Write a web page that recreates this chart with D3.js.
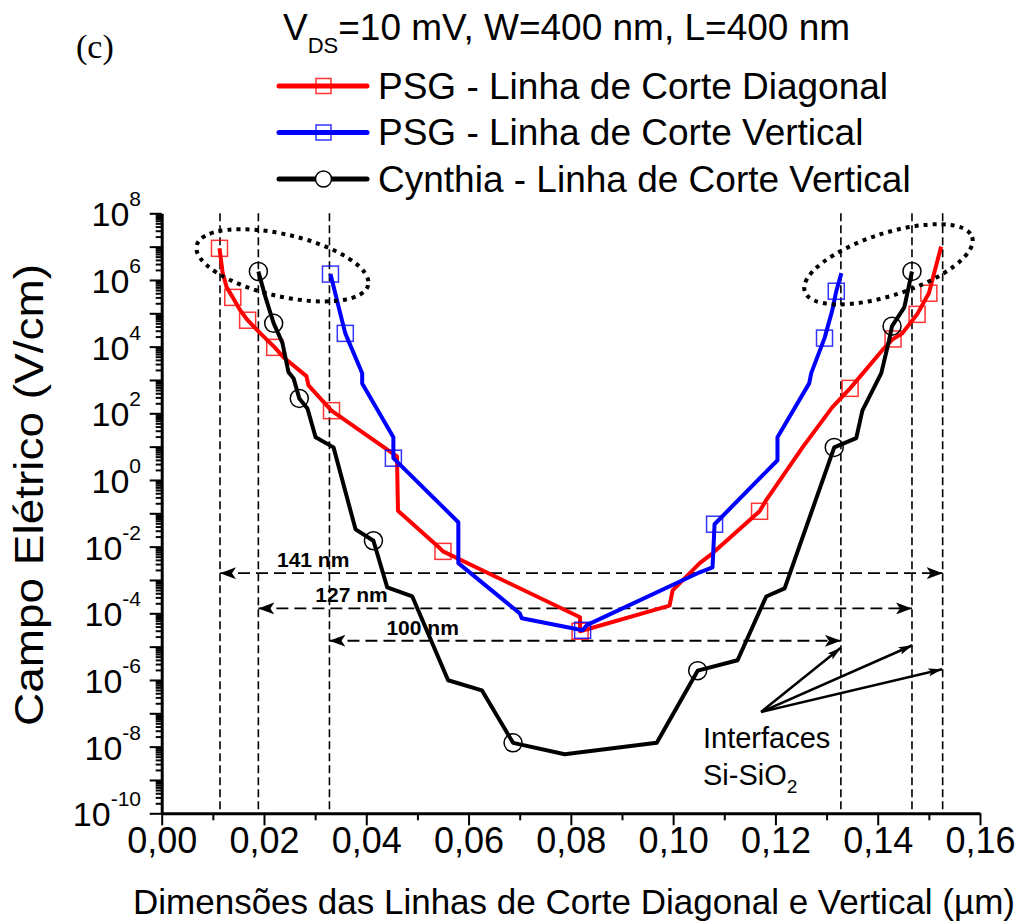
<!DOCTYPE html>
<html>
<head>
<meta charset="utf-8">
<script src="https://cdn.jsdelivr.net/npm/d3@7"></script>
<style>
  body { margin: 0; background: #fff; }
  text { font-family: "Liberation Sans", Arial, sans-serif; fill: #000; }
</style>
</head>
<body>
<svg id="chart" width="1023" height="923"></svg>
<script>
// values: [x (µm), E (V/cm), symbol drawn?]
const psgDiagonal = [
  [0.0113, 8.9e6, 1], [0.0119, 1.7e6, 0], [0.0127, 6.0e5, 0], [0.0139, 3.0e5, 1],
  [0.0154, 1.2e5, 0], [0.0168, 6.2e4, 1], [0.0193, 2.5e4, 0], [0.0221, 9.5e3, 1],
  [0.0238, 4.8e3, 0], [0.0283, 1.3e3, 0], [0.0287, 6.9e2, 0], [0.0332, 1.2e2, 1],
  [0.0460, 5.1, 0], [0.0462, 0.12, 0], [0.0544, 8.9e-3, 0], [0.0550, 7.2e-3, 1],
  [0.0818, 7.6e-5, 0], [0.0818, 2.9e-5, 1], [0.0837, 3.5e-5, 0], [0.0993, 1.7e-4, 0],
  [0.0999, 4.9e-4, 0], [0.1052, 3.2e-3, 0], [0.1077, 6.3e-3, 0], [0.1169, 0.115, 1],
  [0.1182, 0.25, 0], [0.1253, 9.5, 0], [0.1311, 1.5e2, 0], [0.1346, 5.6e2, 1],
  [0.1409, 7.8e3, 0], [0.1430, 1.7e4, 1], [0.1448, 2.5e4, 0], [0.1477, 9.3e4, 1],
  [0.1500, 4.0e5, 1], [0.1524, 1.0e7, 0]
];
const psgVertical = [
  [0.0330, 1.5e6, 1], [0.0349, 1.0e5, 0], [0.0359, 2.5e4, 1], [0.0392, 1.6e3, 0],
  [0.0392, 7.9e2, 0], [0.0453, 19, 0], [0.0453, 4.5, 1], [0.0580, 5.4e-2, 0],
  [0.0580, 3.2e-3, 0], [0.0700, 1.0e-4, 0], [0.0704, 7.1e-5, 0], [0.0823, 3.1e-5, 1],
  [0.0831, 4.4e-5, 0], [0.1052, 1.7e-3, 0], [0.1077, 2.4e-3, 0], [0.1081, 4.7e-2, 1],
  [0.1204, 3.9, 0], [0.1204, 19, 0], [0.1266, 7.9e2, 0], [0.1270, 1.6e3, 0],
  [0.1296, 1.8e4, 1], [0.1311, 1.2e5, 0], [0.1319, 4.6e5, 1], [0.1329, 1.6e6, 0]
];
const cynthia = [
  [0.0189, 1.8e6, 1], [0.0203, 3.0e5, 0], [0.0219, 5.0e4, 1], [0.0236, 1.3e4, 0],
  [0.0248, 1.7e3, 0], [0.0258, 1.1e3, 0], [0.0269, 2.8e2, 1], [0.0285, 1.4e2, 0],
  [0.0301, 19, 0], [0.0336, 9.5, 0], [0.0379, 3.3e-2, 0], [0.0414, 1.5e-2, 1],
  [0.0441, 6.0e-4, 0], [0.0490, 3.2e-4, 0], [0.0560, 9.8e-7, 0], [0.0626, 4.9e-7, 0],
  [0.0687, 1.3e-8, 1], [0.0788, 5.9e-9, 0], [0.0968, 1.3e-8, 0], [0.1048, 1.9e-6, 1],
  [0.1126, 3.9e-6, 0], [0.1182, 3.2e-4, 0], [0.1218, 5.6e-4, 0], [0.1315, 9.5, 1],
  [0.1358, 18, 0], [0.1370, 1.2e2, 0], [0.1407, 1.6e3, 0], [0.1422, 1.5e4, 0],
  [0.1428, 4.1e4, 1], [0.1452, 1.5e5, 0], [0.1467, 1.8e6, 1]
];

const seriesNames = ['PSG - Linha de Corte Diagonal', 'PSG - Linha de Corte Vertical', 'Cynthia - Linha de Corte Vertical'];
const seriesColors = ['#ff0000', '#0000ff', '#000000'];
const seriesSymbols = ['square', 'square', 'circle'];

const xTicks = [0, 0.02, 0.04, 0.06, 0.08, 0.10, 0.12, 0.14, 0.16];
const xMinorTicks = [0.01, 0.03, 0.05, 0.07, 0.09, 0.11, 0.13, 0.15];
const yLabelExps = [8, 6, 4, 2, 0, -2, -4, -6, -8, -10];

// Si-SiO2 interface positions (µm) and the three measured widths
const interfaces = [0.0114, 0.0189, 0.0328, 0.1328, 0.1467, 0.1527];
const widths = [
  { from: 0, to: 5, e: 1.6e-3, label: '141 nm' },
  { from: 1, to: 4, e: 1.4e-4, label: '127 nm' },
  { from: 2, to: 3, e: 1.5e-5, label: '100 nm' }
];
// interface pointers: origin + ends, in data units
const pointerFrom = [0.1172, 1.1e-7];
const pointerTo = [[0.1328, 9.3e-6], [0.1468, 1.1e-5], [0.1526, 2.1e-6]];
// dotted ellipses around the interface peaks [x, E, tilt]
const peakRings = [[0.0236, 2.75e6, 13], [0.1421, 2.95e6, -18]];

const svg = d3.select('#chart');

const x = d3.scaleLinear().domain([0, 0.16]).range([161.7, 980]);
const y = d3.scaleLog().domain([1e-10, 1e8]).range([813.3, 213.3]);

const defs = svg.append('defs');
defs.append('marker')
  .attr('id', 'dimHead')
  .attr('viewBox', '0 -6 16 12')
  .attr('refX', 16).attr('refY', 0)
  .attr('markerWidth', 16).attr('markerHeight', 12)
  .attr('markerUnits', 'userSpaceOnUse')
  .attr('orient', 'auto-start-reverse')
  .append('path')
  .attr('d', 'M0,-6L16,0L0,6L4,0Z')
  .attr('fill', '#000');
defs.append('marker')
  .attr('id', 'ptrHead')
  .attr('viewBox', '0 -4 14 8')
  .attr('refX', 14).attr('refY', 0)
  .attr('markerWidth', 14).attr('markerHeight', 8)
  .attr('markerUnits', 'userSpaceOnUse')
  .attr('orient', 'auto')
  .append('path')
  .attr('d', 'M0,-4L14,0L0,4L3,0Z')
  .attr('fill', '#000');

// vertical dashed interface lines
svg.append('g').selectAll('line')
  .data(interfaces)
  .enter().append('line')
  .attr('x1', d => x(d)).attr('x2', d => x(d))
  .attr('y1', y(1e8)).attr('y2', y(1e-10))
  .attr('stroke', '#000')
  .attr('stroke-width', 1.6)
  .attr('stroke-dasharray', '8,4');

// width arrows
let dims = svg.append('g');
dims.selectAll('line')
  .data(widths)
  .enter().append('line')
  .attr('x1', d => x(interfaces[d.from])).attr('x2', d => x(interfaces[d.to]))
  .attr('y1', d => y(d.e)).attr('y2', d => y(d.e))
  .attr('stroke', '#000')
  .attr('stroke-width', 1.8)
  .attr('stroke-dasharray', '12,6')
  .attr('marker-start', 'url(#dimHead)')
  .attr('marker-end', 'url(#dimHead)');
dims.selectAll('text')
  .data(widths)
  .enter().append('text')
  .attr('x', d => x(interfaces[d.from]) + 57)
  .attr('y', d => y(d.e) - 6)
  .style('font-size', '21px')
  .style('font-weight', 'bold')
  .text(d => d.label);

// series lines + symbols
const line = d3.line().x(d => x(d[0])).y(d => y(d[1]));
[psgDiagonal, psgVertical, cynthia].forEach((data, i) => {
  let g = svg.append('g');
  g.append('path')
    .datum(data)
    .attr('d', line)
    .attr('fill', 'none')
    .attr('stroke', seriesColors[i])
    .attr('stroke-width', 4)
    .attr('stroke-linejoin', 'round');
  let pts = data.filter(d => d[2]);
  if (seriesSymbols[i] === 'square') {
    g.selectAll('rect')
      .data(pts)
      .enter().append('rect')
      .attr('x', d => x(d[0]) - 8).attr('y', d => y(d[1]) - 8)
      .attr('width', 16).attr('height', 16)
      .attr('fill', 'none')
      .attr('stroke', seriesColors[i])
      .attr('stroke-opacity', 0.8)
      .attr('stroke-width', 1.5);
  } else {
    g.selectAll('circle')
      .data(pts)
      .enter().append('circle')
      .attr('cx', d => x(d[0])).attr('cy', d => y(d[1]))
      .attr('r', 9)
      .attr('fill', 'none')
      .attr('stroke', '#000')
      .attr('stroke-width', 1.5);
  }
});

// dotted ellipses
svg.append('g').selectAll('ellipse')
  .data(peakRings)
  .enter().append('ellipse')
  .attr('transform', d => `translate(${x(d[0])},${y(d[1])}) rotate(${d[2]})`)
  .attr('rx', 88).attr('ry', 31)
  .attr('fill', 'none')
  .attr('stroke', '#000')
  .attr('stroke-width', 4)
  .attr('stroke-dasharray', '4,5');

// interface pointers
svg.append('g').selectAll('line')
  .data(pointerTo)
  .enter().append('line')
  .attr('x1', x(pointerFrom[0])).attr('y1', y(pointerFrom[1]))
  .attr('x2', d => x(d[0])).attr('y2', d => y(d[1]))
  .attr('stroke', '#000')
  .attr('stroke-width', 2.5)
  .attr('marker-end', 'url(#ptrHead)');

let note = svg.append('text')
  .attr('x', 703).attr('y', 748)
  .style('font-size', '29px');
note.append('tspan').text('Interfaces');
let note2 = svg.append('text')
  .attr('x', 703).attr('y', 785)
  .style('font-size', '29px');
note2.append('tspan').text('Si-SiO');
note2.append('tspan').attr('dy', 8).style('font-size', '19px').text('2');

// axes
let xAxis = svg.append('g')
  .attr('transform', `translate(0,${y(1e-10)})`)
  .call(d3.axisBottom(x).tickValues(xTicks).tickSize(12).tickSizeOuter(0)
    .tickFormat(d => d3.format('.2f')(d).replace('.', ',')));
svg.append('g')
  .attr('transform', `translate(0,${y(1e-10)})`)
  .call(d3.axisBottom(x).tickValues(xMinorTicks).tickSize(7).tickSizeOuter(0).tickFormat(''))
  .select('.domain').remove();
xAxis.selectAll('text')
  .attr('y', 40)
  .attr('dy', 0)
  .style('font-size', '36px')
  .style('font-family', '"Liberation Sans", Arial, sans-serif');

const yMajor = d3.range(-10, 9).map(k => Math.pow(10, k));
const yMinor = [];
d3.range(-10, 8).forEach(k => {
  for (let m = 2; m <= 9; m++) yMinor.push(m * Math.pow(10, k));
});
let yAxis = svg.append('g')
  .attr('transform', `translate(${x(0)},0)`)
  .call(d3.axisLeft(y).tickValues(yMajor).tickSize(12).tickSizeOuter(0).tickFormat(''));
svg.append('g')
  .attr('transform', `translate(${x(0)},0)`)
  .call(d3.axisLeft(y).tickValues(yMinor).tickSize(6).tickSizeOuter(0).tickFormat(''))
  .select('.domain').remove();

svg.selectAll('.domain').attr('stroke-width', 3);
svg.selectAll('.tick line').attr('stroke-width', 2);

let yLabels = svg.append('g').selectAll('text')
  .data(yLabelExps)
  .enter().append('text')
  .attr('x', 141)
  .attr('y', d => y(Math.pow(10, d)) + 13)
  .attr('text-anchor', 'end')
  .style('font-size', '34px');
yLabels.append('tspan').text('10');
yLabels.append('tspan')
  .attr('dy', -20)
  .style('font-size', '21px')
  .text(d => String(d));

// axis titles
svg.append('text')
  .attr('x', 574).attr('y', 914)
  .attr('text-anchor', 'middle')
  .style('font-size', '35px')
  .text('Dimensões das Linhas de Corte Diagonal e Vertical (µm)');
svg.append('text')
  .attr('transform', 'translate(43,495) rotate(-90)')
  .attr('text-anchor', 'middle')
  .attr('textLength', 462)
  .attr('lengthAdjust', 'spacingAndGlyphs')
  .style('font-size', '40px')
  .text('Campo Elétrico (V/cm)');

// panel tag and header
svg.append('text')
  .attr('x', 76).attr('y', 58)
  .style('font-family', '"Liberation Serif", "Times New Roman", serif')
  .style('font-size', '34px')
  .text('(c)');
let head = svg.append('text')
  .attr('x', 283).attr('y', 40)
  .style('font-size', '37px');
head.append('tspan').text('V');
head.append('tspan').attr('dy', 13).style('font-size', '22px').text('DS');
head.append('tspan').attr('dy', -13).text('=10 mV, W=400 nm, L=400 nm');

// legend
const legendRows = [86, 132.5, 179];
let legend = svg.append('g').selectAll('g')
  .data(seriesNames)
  .enter().append('g')
  .attr('transform', (d, i) => `translate(0,${legendRows[i]})`);
legend.append('line')
  .attr('x1', 279).attr('x2', 367)
  .attr('stroke', (d, i) => seriesColors[i])
  .attr('stroke-width', 5)
  .attr('stroke-linecap', 'round');
legend.each(function(d, i) {
  let g = d3.select(this);
  if (seriesSymbols[i] === 'square') {
    g.append('rect')
      .attr('x', 316).attr('y', -7.5)
      .attr('width', 15).attr('height', 15)
      .attr('fill', 'none')
      .attr('stroke', seriesColors[i])
      .attr('stroke-opacity', 0.8)
      .attr('stroke-width', 1.5);
  } else {
    g.append('circle')
      .attr('cx', 323.5).attr('r', 8)
      .attr('fill', '#fff')
      .attr('stroke', '#000')
      .attr('stroke-width', 1.5);
  }
});
legend.append('text')
  .attr('x', 378).attr('y', 12.5)
  .style('font-size', '37px')
  .text(d => d);
</script>
</body>
</html>
